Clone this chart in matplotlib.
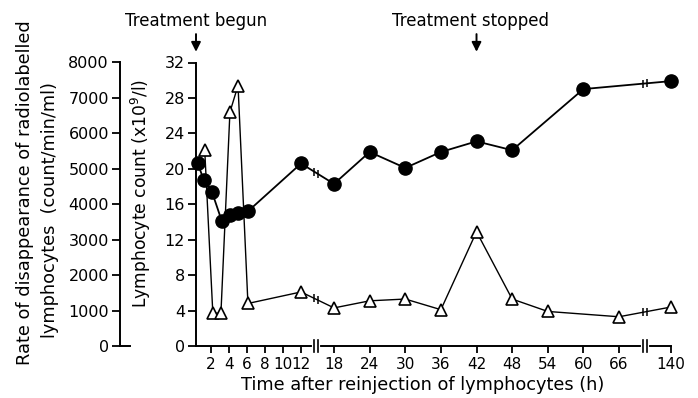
import numpy as np
import matplotlib
matplotlib.use('Agg')
import matplotlib.pyplot as plt

# data
circle_t = [0.5, 1.2, 2.1, 3.2, 4.1, 5.0, 6.1, 12, 18, 24, 30, 36, 42, 48, 60, 140]
circle_y = [20.7, 18.7, 17.4, 14.1, 14.8, 15.0, 15.2, 20.6, 18.3, 21.9, 20.1, 21.9, 23.1, 22.1, 29.0, 29.9]
tri_t = [1.3, 2.2, 3.1, 4.1, 5.0, 6.1, 12, 18, 24, 30, 36, 42, 48, 54, 66, 140]
tri_y = [22.1, 3.7, 3.7, 26.4, 29.4, 4.8, 6.1, 4.3, 5.1, 5.3, 4.1, 12.9, 5.3, 3.9, 3.3, 4.4]
x_ticks = [2, 4, 6, 8, 10, 12, 18, 24, 30, 36, 42, 48, 54, 60, 66, 140]
y_ticks = [0, 4, 8, 12, 16, 20, 24, 28, 32]
rate_ticks = [0, 1000, 2000, 3000, 4000, 5000, 6000, 7000, 8000]
treat_start = 0.33
treat_stop = 42

# broken time axis: piecewise linear scale
hrs_knots = [0, 12, 18, 66, 140]
pos_knots = [193, 301, 334, 619, 671]


def fwd(x):
    return np.interp(x, hrs_knots, pos_knots)


def inv(p):
    return np.interp(p, pos_knots, hrs_knots)


breaks = [(14.4, 15.1), (100.2, 105.9)]

plt.rcParams['font.family'] = 'DejaVu Sans'
fig = plt.figure(figsize=(6.98, 3.98), dpi=100)
ax = fig.add_axes([196 / 698, 52 / 398, 475 / 698, 283.5 / 398])
ax.set_xscale('function', functions=(fwd, inv))
ax.set_xlim(treat_start, 140)
ax.set_ylim(0, 32)

ax.plot(circle_t, circle_y, color='k', lw=1.3, marker='o', ms=9.5, zorder=4, clip_on=False)
ax.plot(tri_t, tri_y, color='k', lw=1.0, marker='^', ms=9, mfc='white', mec='k', mew=1.2,
        zorder=5, clip_on=False)


def y_at(xb, xs, ys):
    # y of a straight segment at xb, measured in scaled space
    i = np.searchsorted(xs, xb)
    x0, x1, y0, y1 = xs[i - 1], xs[i], ys[i - 1], ys[i]
    f = (fwd(xb) - fwd(x0)) / (fwd(x1) - fwd(x0))
    return y0 + f * (y1 - y0)


# break marks on the lines and on the axis
for b0, b1 in breaks:
    for xs, ys in [(circle_t, circle_y), (tri_t, tri_y)]:
        ya, yb = y_at(b0, xs, ys), y_at(b1, xs, ys)
        ax.plot([b0, b1], [ya, yb], color='white', lw=3, zorder=3.5)
        ax.plot([b0, b1], [ya, yb], ls='none', marker='|', ms=6, mew=1.1, color='k', zorder=3.6)
    tr = ax.get_xaxis_transform()
    ax.plot([b0, b1], [0, 0], color='white', lw=3, transform=tr, clip_on=False, zorder=3)
    for b in (b0, b1):
        ax.plot([b, b], [-0.021, 0.021], color='k', lw=1.2, transform=tr, clip_on=False, zorder=3.1)

ax.spines['top'].set_visible(False)
ax.spines['right'].set_visible(False)
ax.spines['left'].set_linewidth(1.4)
ax.spines['bottom'].set_linewidth(1.4)
ax.set_xticks(x_ticks)
ax.set_xticklabels([str(t) for t in x_ticks])
ax.minorticks_off()
ax.set_yticks(y_ticks)
ax.tick_params(axis='x', direction='out', length=5, width=1.3, labelsize=11, pad=3)
ax.tick_params(axis='y', direction='out', length=6, width=1.3, labelsize=11.5, pad=2)
ax.set_xlabel('Time after reinjection of lymphocytes (h)', fontsize=12.8, va='center')
ax.xaxis.set_label_coords((423 - 196) / 475, -(385 - 346) / 283.5)
ax.set_ylabel('Lymphocyte count (x10$^9$/l)', fontsize=12.3, va='center')
ax.yaxis.set_label_coords((141 - 196) / 475, (346 - 193) / 283.5)

# outer axis: rate of disappearance
ax2 = ax.twinx()
ax2.set_ylim(0, 8000)
ax2.spines['right'].set_visible(False)
ax2.spines['top'].set_visible(False)
ax2.spines['bottom'].set_visible(False)
ax2.spines['left'].set_position(('outward', 76 * 0.72))
ax2.spines['left'].set_linewidth(1.4)
ax2.yaxis.tick_left()
ax2.set_yticks(rate_ticks)
ax2.tick_params(axis='y', direction='out', length=6, width=1.3, labelsize=11.5, pad=2)
ax2.plot([(120 - 196) / 475, (130 - 196) / 475], [0, 0], color='k', lw=1.4,
         transform=ax2.transAxes, clip_on=False)

fig.text(25 / 698, 1 - 193 / 398, 'Rate of disappearance of radiolabelled', rotation=90,
         ha='center', va='center', fontsize=12.8)
fig.text(50 / 698, 1 - 210 / 398, 'lymphocytes  (count/min/ml)', rotation=90,
         ha='center', va='center', fontsize=12.8)

# treatment annotations
tr = ax.get_xaxis_transform()
for t, label, tx in [(treat_start, 'Treatment begun', treat_start), (treat_stop, 'Treatment stopped', 41)]:
    ax.annotate('', xy=(t, 1.028), xytext=(t, 1.11), xycoords=tr, textcoords=tr,
                arrowprops=dict(arrowstyle='-|>', color='k', lw=1.4, mutation_scale=14),
                annotation_clip=False)
    ax.text(tx, 1 + (63 - 21) / 283.5, label, transform=tr, ha='center', va='center', fontsize=12)

fig.savefig('out.png', dpi=100)
